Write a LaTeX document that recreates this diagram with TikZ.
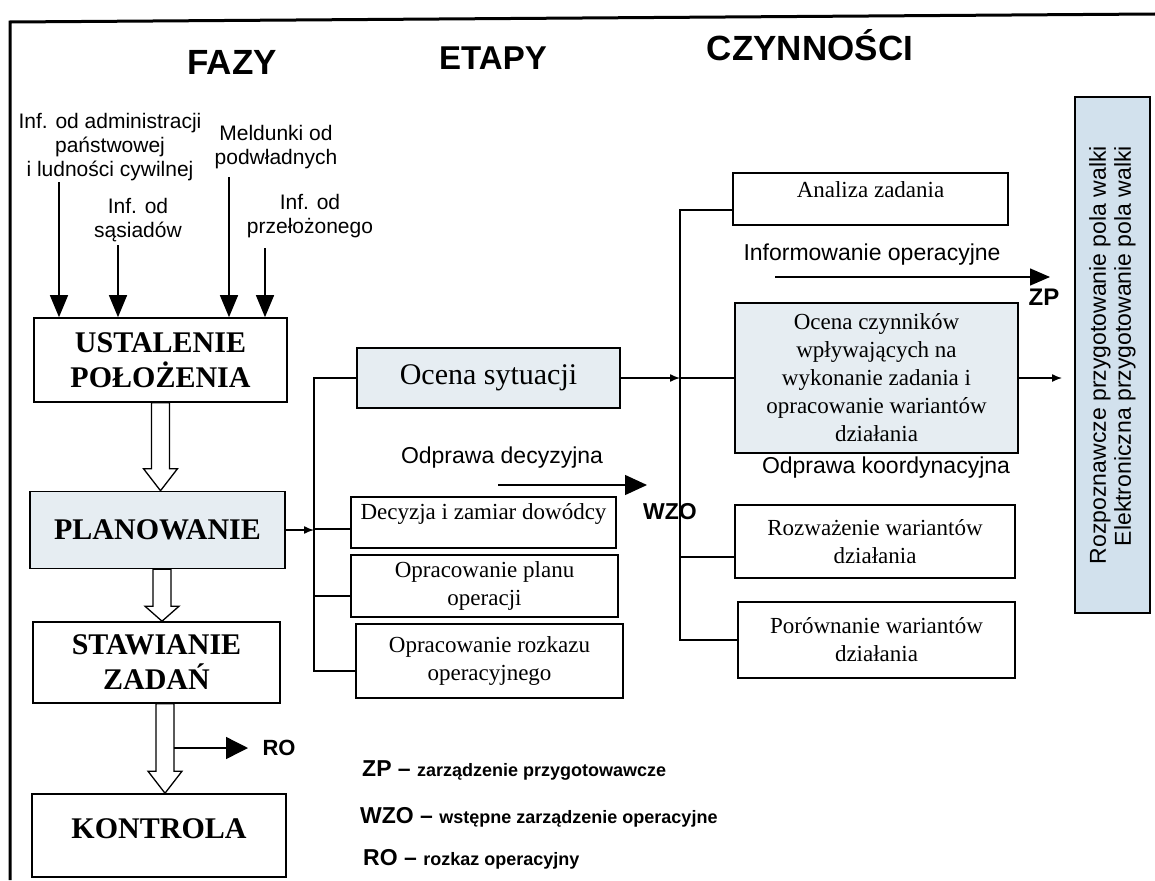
\documentclass[tikz,border=0pt]{standalone}
\usepackage{fontspec}
\setmainfont{Liberation Serif}
\setsansfont{Liberation Sans}
\usepackage{tikz}
\usetikzlibrary{arrows.meta,calc}
\definecolor{shade}{HTML}{E6EDF2}
\definecolor{sideshade}{HTML}{D2E1ED}
\newcommand{\fatarrow}[3]{%
  \draw[hollow] let \p1=(#1), \p2=(#2) in
    (\x1-9pt,\y1) -- (\x1-9pt,\y2+#3) -- (\x1-17pt,\y2+#3) -- (\x1,\y2)
    -- (\x1+17pt,\y2+#3) -- (\x1+9pt,\y2+#3) -- (\x1+9pt,\y1) -- cycle;}

\begin{document}
\begin{tikzpicture}[x=1pt,y=-1pt,
  phase/.style={draw,line width=1.6pt,inner sep=2pt,align=center,
    font=\fontsize{30}{35}\selectfont\bfseries},
  stage/.style={draw,line width=1.5pt,inner sep=2pt,align=center,
    font=\fontsize{23}{28}\selectfont},
  colhead/.style={anchor=base,font=\sffamily\bfseries\fontsize{35}{40}\selectfont},
  lbl/.style={align=center,font=\sffamily\fontsize{21}{24}\selectfont},
  txt/.style={font=\sffamily\fontsize{23}{26}\selectfont},
  abbr/.style={font=\sffamily\bfseries\fontsize{23}{26}\selectfont},
  sidebox/.style={draw,fill=sideshade,line width=1.5pt,rotate=90,align=right,
    font=\sffamily\fontsize{23}{25}\selectfont},
  wire/.style={line width=1.4pt},
  arrow/.style={line width=1.4pt,-{Latex[length=10pt,width=8pt]}},
  bigarrow/.style={line width=1.4pt,-{Triangle[length=22pt,width=18pt]}},
  hollow/.style={line width=1.3pt,fill=white}
]
\useasboundingbox (0,0) rectangle (1155,880);
\draw[line width=3pt] (10,880) -- (10,22) -- (1155,14);

% column heads
\node[colhead] (fazy) at (232,75) {FAZY};
\node[colhead,font=\sffamily\bfseries\fontsize{33}{40}\selectfont] (etapy) at (493,70) {ETAPY};
\node[colhead] (czyn) at (810,61) {CZYNNOŚCI};

% inputs
\node[lbl] (inadm) at (110,147) {Inf. od administracji\\państwowej\\i ludności cywilnej};
\node[lbl] (inmeld) at (276,147.5) {Meldunki od\\podwładnych};
\node[lbl] (insas) at (138,220.5) {Inf. od\\sąsiadów};
\node[lbl] (inprz) at (310,216.5) {Inf. od\\przełożonego};
\coordinate (a1) at (59,182);
\coordinate (a2) at (118,245);
\coordinate (a3) at (229,177);
\coordinate (a4) at (265,248);

% phases
\node[phase,minimum width=253pt,minimum height=84pt] (ust) at (160.5,360) {USTALENIE\\POŁOŻENIA};
\node[phase,fill=shade,minimum width=255pt,minimum height=77pt] (plan) at (157.5,530) {PLANOWANIE};
\node[phase,minimum width=247pt,minimum height=81pt] (staw) at (156.5,662.5) {STAWIANIE\\ZADAŃ};
\node[phase,minimum width=254pt,minimum height=83pt,text depth=14pt] (kontr) at (159,835.5) {KONTROLA};
\node[abbr,font=\sffamily\bfseries\fontsize{22}{26}\selectfont] (ro) at (279,748) {RO};
\coordinate (roA) at (173.5,748);
\coordinate (roB) at (248,748);

\foreach \a in {a1,a2,a3,a4}
  \draw[bigarrow] (\a) -- (\a |- ust.north);
\fatarrow{ust.south}{plan.north}{22pt}
\fatarrow{[xshift=4.5pt]plan.south}{staw.north}{15pt}
\fatarrow{[xshift=8.5pt]staw.south}{kontr.north}{22pt}
\draw[bigarrow,-{Triangle[length=22pt,width=22pt]}] (roA) -- (roB);

% stages
\node[stage,fill=shade,minimum width=263pt,minimum height=60pt,
  font=\fontsize{30}{34}\selectfont] (ocs) at (488.5,378) {Ocena sytuacji};
\node[stage,minimum width=265pt,minimum height=51pt,text depth=23pt] (dec) at (483.5,522.5) {Decyzja i zamiar dowódcy};
\node[stage,minimum width=267pt,minimum height=62pt] (oplan) at (484.5,586) {Opracowanie planu\\operacji};
\node[stage,minimum width=267pt,minimum height=74pt] (rozk) at (489.5,661) {Opracowanie rozkazu\\operacyjnego};
\node[txt] (odec) at (502,458) {Odprawa decyzyjna};
\coordinate (odecA) at (498,485);
\coordinate (odecB) at (647,485);
\node[abbr] (wzo) at (670,512) {WZO};

\coordinate (bus1) at (314,378);
\draw[wire] (ocs.west) -- (bus1) |- ([yshift=-10pt]rozk.west);
\draw[wire] ([yshift=-6.5pt]dec.west) -| (bus1);
\draw[wire] ([yshift=-10pt]oplan.west) -| (bus1);
\draw[arrow] (plan.east) -- (plan.east -| bus1);
\draw[bigarrow,-{Triangle[length=22pt,width=20pt]}] (odecA) -- (odecB);

% activities
\node[stage,minimum width=275pt,minimum height=52pt,text depth=19pt] (anal) at (870.5,199) {Analiza zadania};
\node[txt] (inform) at (872,255) {Informowanie operacyjne};
\coordinate (infA) at (775,277);
\coordinate (infB) at (1050,277);
\node[abbr,font=\sffamily\bfseries\fontsize{24}{26}\selectfont] (zp) at (1044,297) {ZP};
\node[stage,fill=shade,minimum width=283pt,minimum height=150pt] (ocz) at (876.5,378)
  {Ocena czynników\\wpływających na\\wykonanie zadania i\\opracowanie wariantów\\działania};
\node[txt] (okoord) at (886,468) {Odprawa koordynacyjna};
\node[stage,minimum width=280pt,minimum height=73pt] (rozw) at (875,541.5) {Rozważenie wariantów\\działania};
\node[stage,minimum width=277pt,minimum height=76pt] (porow) at (876.5,640) {Porównanie wariantów\\działania};
\node[sidebox,minimum width=516pt,minimum height=75pt] (side) at (1112.5,355)
  {Rozpoznawcze przygotowanie pola walki\\Elektroniczna przygotowanie pola walki};
\coordinate (oczout) at (1062,378);

\coordinate (bus2) at (680,640);
\draw[wire] (porow.west) -- (bus2) |- ([yshift=-11pt]anal.west);
\draw[wire] ([yshift=-15.5pt]rozw.west) -| (bus2);
\draw[wire] (ocz.west) -| (bus2);
\draw[arrow] (ocs.east) -- (ocs.east -| bus2);
\draw[arrow] (ocz.east) -- (oczout);
\draw[bigarrow,-{Triangle[length=20pt,width=17pt]}] (infA) -- (infB);

% legend
\node[anchor=base west,inner sep=0pt,font=\sffamily\bfseries] (lzp) at (362,776)
  {\fontsize{23}{26}\selectfont ZP -- \fontsize{18}{20}\selectfont zarządzenie przygotowawcze};
\node[anchor=base west,inner sep=0pt,font=\sffamily\bfseries] (lwzo) at (360,823)
  {\fontsize{23}{26}\selectfont WZO -- \fontsize{18}{20}\selectfont wstępne zarządzenie operacyjne};
\node[anchor=base west,inner sep=0pt,font=\sffamily\bfseries] (lro) at (363,865)
  {\fontsize{23}{26}\selectfont RO -- \fontsize{18}{20}\selectfont rozkaz operacyjny};
\end{tikzpicture}
\end{document}
